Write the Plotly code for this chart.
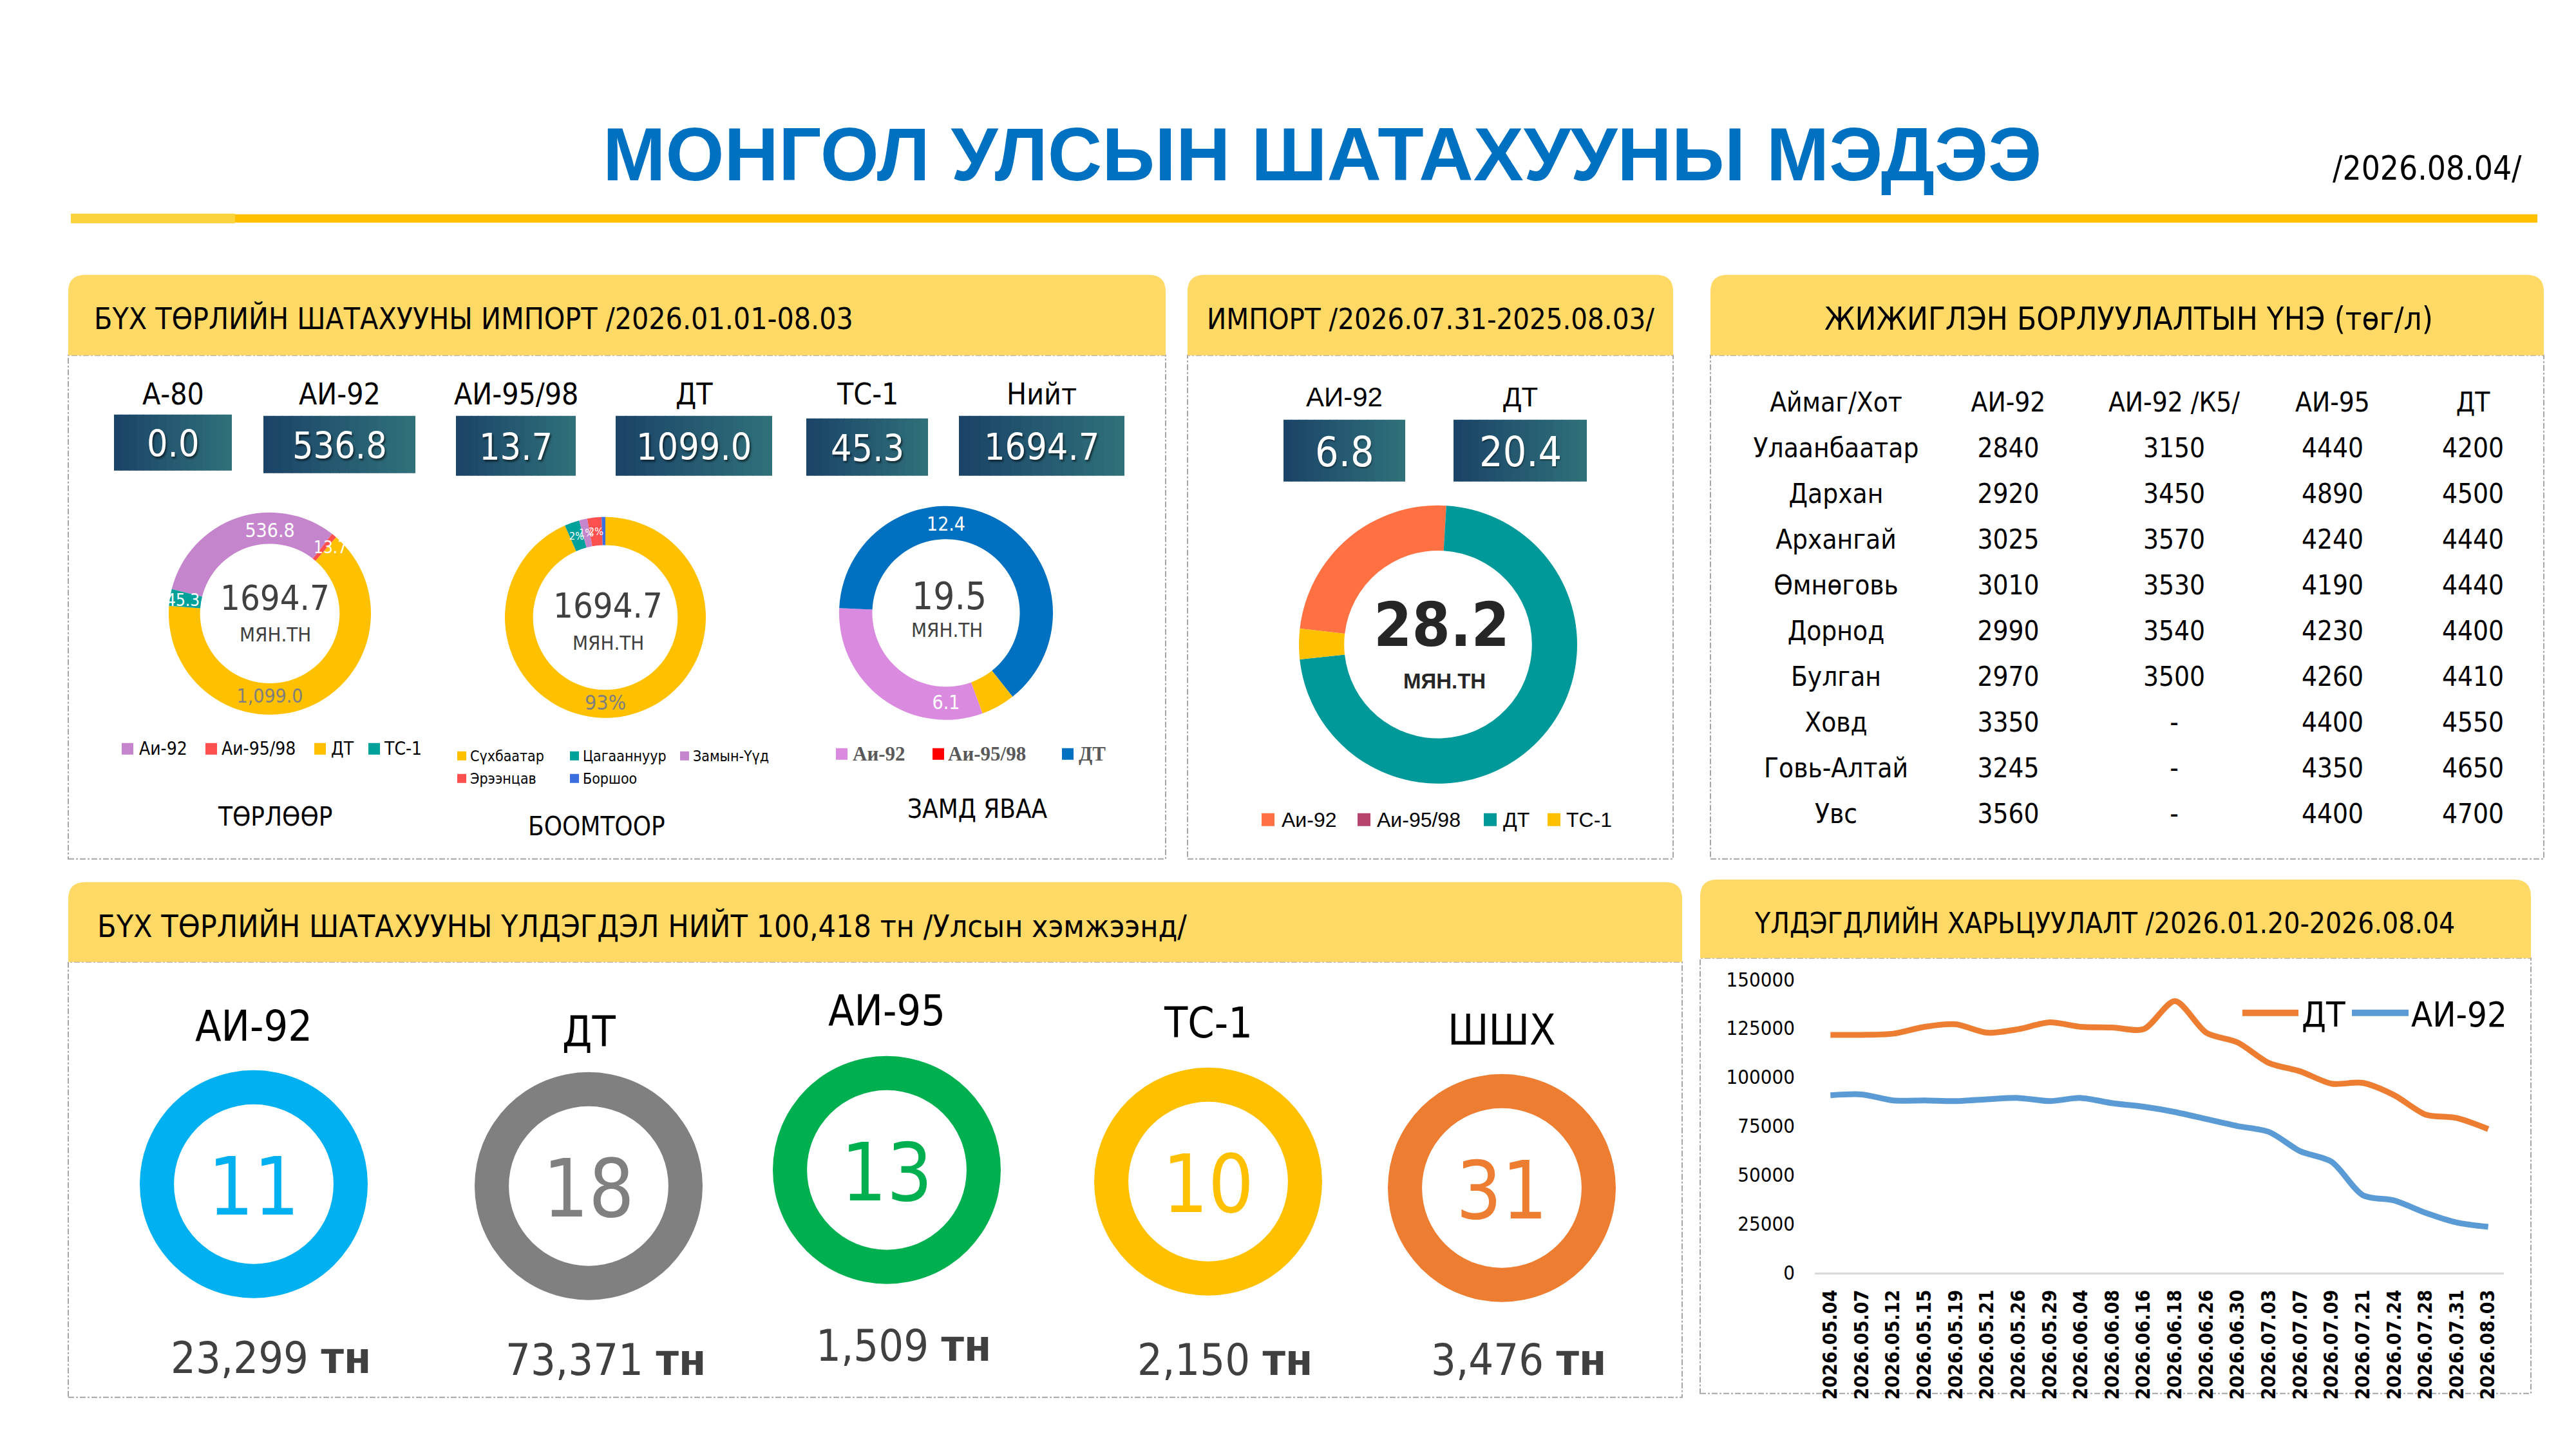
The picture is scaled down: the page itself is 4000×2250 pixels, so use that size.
import math

import plotly.graph_objects as go

W, H = 4000, 2250
# the photographed page comes out slightly shrunk and shifted in height; positions
# below are picture pixels and are mapped back onto the figure with these factors
SX, SY = 1.0, 0.984
OX, OY = 0, 16.5

# ---------------- data ----------------
import_fuels = ["А-80", "АИ-92", "АИ-95/98", "ДТ", "ТС-1", "Нийт"]
import_totals = [0.0, 536.8, 13.7, 1099.0, 45.3, 1694.7]

type_labels = ["Аи-92", "Аи-95/98", "ДТ", "ТС-1"]
type_values = [536.8, 13.7, 1099.0, 45.3]

border_labels = ["Сүхбаатар", "Цагааннуур", "Замын-Үүд", "Эрээнцав", "Боршоо"]
border_share = [93.4, 2.4, 1.3, 2.3, 0.6]

transit_labels = ["Аи-92", "ДТ", "Аи-95/98"]
transit_values = [6.1, 12.4, 1.0]
transit_total = 19.5

recent_labels = ["Аи-92", "Аи-95/98", "ДТ", "ТС-1"]
recent_values = [6.8, 0.0, 20.4, 1.0]
recent_total = 28.2

price_header = ["Аймаг/Хот", "АИ-92", "АИ-92 /К5/", "АИ-95", "ДТ"]
price_places = ["Улаанбаатар", "Дархан", "Архангай", "Өмнөговь", "Дорнод",
                "Булган", "Ховд", "Говь-Алтай", "Увс"]
price_ai92 = [2840, 2920, 3025, 3010, 2990, 2970, 3350, 3245, 3560]
price_ai92_k5 = [3150, 3450, 3570, 3530, 3540, 3500, None, None, None]
price_ai95 = [4440, 4890, 4240, 4190, 4230, 4260, 4400, 4350, 4400]
price_dt = [4200, 4500, 4440, 4440, 4400, 4410, 4550, 4650, 4700]

stock_fuels = ["АИ-92", "ДТ", "АИ-95", "ТС-1", "ШШХ"]
stock_days = [11, 18, 13, 10, 31]
stock_tonnes = [23299, 73371, 1509, 2150, 3476]
stock_total = 100418

trend_dates = ["2026.05.04", "2026.05.07", "2026.05.12", "2026.05.15", "2026.05.19",
               "2026.05.21", "2026.05.26", "2026.05.29", "2026.06.04", "2026.06.08",
               "2026.06.16", "2026.06.18", "2026.06.26", "2026.06.30", "2026.07.03",
               "2026.07.07", "2026.07.09", "2026.07.21", "2026.07.24", "2026.07.28",
               "2026.07.31", "2026.08.03"]
trend_dt = [121600, 121600, 122200, 125700, 127000, 122700, 124500, 128000, 125700,
            125400, 124500, 138900, 122700, 117700, 107200, 102900, 96600, 97000,
            90700, 80800, 79000, 73371]
trend_ai92 = [90700, 91100, 88000, 88000, 87700, 88600, 89300, 87700, 89300, 86600,
              84800, 82100, 78500, 74900, 71900, 62000, 56600, 39500, 36800, 30500,
              25500, 23299]

# ---------------- styles ----------------
NARROW = "DejaVu Sans Condensed, Liberation Sans Narrow, sans-serif"
SANS = "Liberation Sans, Arial, sans-serif"
SERIF = "Liberation Serif, Times New Roman, serif"
HEADER_FILL = "#FFD966"
BORDER = "#A6A6A6"
DARK = "#404040"

type_colors = ["#C585CC", "#FF5050", "#FFC000", "#00A19A"]
border_colors = ["#FFC000", "#00A19A", "#C585CC", "#FF5050", "#3B6FE0"]
transit_colors = ["#DA8BE0", "#0070C0", "#FFC000"]
transit_legend_colors = {"Аи-92": "#DA8BE0", "Аи-95/98": "#FF0000", "ДТ": "#0070C0"}
recent_colors = ["#FF7043", "#B5456E", "#009999", "#FFC000"]
stock_colors = ["#00B0F0", "#808080", "#00B050", "#FFC000", "#ED7D31"]


def fx(x):
    return (x / SX - OX) / W


def fy(y):
    return 1 - (y / SY - OY) / H


shapes = []
annotations = []


def rect(x0, y0, x1, y1, fill, line_color=None, width=0, dash=None):
    shapes.append(dict(
        type="rect", xref="paper", yref="paper", layer="below",
        x0=fx(x0), x1=fx(x1), y0=fy(y1), y1=fy(y0), fillcolor=fill,
        line=dict(width=width, color=line_color or fill, dash=dash),
    ))


def text(x, y, s, size, color="black", family=NARROW, xanchor="center", weight="normal",
         shadow="none"):
    annotations.append(dict(
        x=fx(x), y=fy(y), xref="paper", yref="paper", text=s, showarrow=False,
        xanchor=xanchor, yanchor="middle",
        font=dict(family=family, size=size, color=color, weight=weight, shadow=shadow),
    ))


def panel(x0, x1, y0, yh, y1, title, tx, anchor, size):
    rect(x0, yh, x1, y1, "white", BORDER, 2, "dashdot")
    r = 26
    path = (f"M{fx(x0)},{fy(yh)} L{fx(x0)},{fy(y0 + r)} Q{fx(x0)},{fy(y0)} {fx(x0 + r)},{fy(y0)} "
            f"L{fx(x1 - r)},{fy(y0)} Q{fx(x1)},{fy(y0)} {fx(x1)},{fy(y0 + r)} L{fx(x1)},{fy(yh)} Z")
    shapes.append(dict(type="path", xref="paper", yref="paper", layer="below", path=path,
                       fillcolor=HEADER_FILL, line=dict(width=0)))
    text(tx, (y0 + yh) / 2 + 6, title, size, xanchor=anchor)


def value_box(x0, y0, x1, y1):
    n = 16
    c0, c1 = (27, 68, 104), (47, 112, 121)
    w = (x1 - x0) / n
    for i in range(n):
        t = i / (n - 1)
        c = tuple(round(a + (b - a) * t) for a, b in zip(c0, c1))
        rect(x0 + i * w, y0, min(x0 + (i + 1) * w + 1, x1), y1, "rgb(%d,%d,%d)" % c)


def legend_row(items, y, sq, size, family=NARROW, color="black", weight="normal"):
    for label, col, xs, xt in items:
        rect(xs, y - sq / 2, xs + sq, y + sq / 2, col)
        text(xt, y, label, size, color, family, "left", weight)


def slice_pos(values, idx, rotation, cx, cy, r, hole):
    total = sum(values)
    cum = sum(values[:idx]) + values[idx] / 2
    ang = math.radians(rotation + 360 * cum / total)
    rm = r * (1 + hole) / 2
    return cx + rm * math.sin(ang), cy - rm * math.cos(ang)


fig = go.Figure()


def donut(values, labels, colors, cx, cy, r, hole, rotation, txt=None, tcolor="white",
          tsize=32):
    fig.add_trace(go.Pie(
        values=values, labels=labels, hole=hole, sort=False, direction="clockwise",
        rotation=rotation, marker=dict(colors=colors, line=dict(width=0)),
        domain=dict(x=[fx(cx - r), fx(cx + r)], y=[fy(cy + r), fy(cy - r)]),
        text=txt or [""] * len(values), textinfo="text", textposition="inside",
        insidetextorientation="horizontal",
        textfont=dict(family=NARROW, size=tsize, color=tcolor),
        showlegend=False, hoverinfo="label+value",
    ))


# ---------------- page title ----------------
text(2053, 238, "МОНГОЛ УЛСЫН ШАТАХУУНЫ МЭДЭЭ", 117, "#0070C0", SANS, weight="bold")
text(3918, 260, "/2026.08.04/", 51, xanchor="right")
rect(110, 331, 3940, 344, "#FFC000")
rect(110, 330, 365, 345, "#F9D23C")

# ---------------- panel 1: imports by type ----------------
panel(106, 1810, 425, 550, 1332, "БҮХ ТӨРЛИЙН ШАТАХУУНЫ ИМПОРТ /2026.01.01-08.03", 144, "left", 46)
boxes1 = [(177, 360, 642, 729), (409, 645, 644, 733), (708, 894, 644, 737),
          (956, 1199, 644, 737), (1252, 1441, 648, 737), (1489, 1746, 644, 737)]
for name, val, (bx0, bx1, by0, by1) in zip(import_fuels, import_totals, boxes1):
    value_box(bx0, by0, bx1, by1)
    text((bx0 + bx1) / 2, 610, name, 46)
    text((bx0 + bx1) / 2, (by0 + by1) / 2 + 2, f"{val:.1f}", 57, "white",
         shadow="2px 3px 3px rgba(0,0,0,0.55)")

# donut: by type
c1 = (419, 951, 157, 0.69, -76)
type_text = [f"{v:,.1f}" if v > 100 else "" for v in type_values]
donut(type_values, type_labels, type_colors, c1[0], c1[1], c1[2], c1[3], c1[4],
      type_text, ["white", "white", "#7F7F7F", "white"], 30)
for i, v in enumerate(type_values):
    if v <= 100:
        px_, py_ = slice_pos(type_values, i, c1[4], c1[0], c1[1], c1[2], c1[3])
        text(px_ + (10 if i == 1 else -4), py_, f"{v:,.1f}", 26, "white")
text(427, 927, f"{import_totals[-1]:.1f}", 54, DARK)
text(427, 983, "МЯН.ТН", 31, DARK)
legend_row(list(zip(type_labels, type_colors, [189, 319, 488, 572], [214, 342, 512, 594])),
           1161, 18, 28)
text(427, 1266, "ТӨРЛӨӨР", 40)

# donut: by border point
c2 = (940, 957, 156, 0.72, 0)
border_text = [f"{round(border_share[0])}%"] + [""] * 4
donut(border_share, border_labels, border_colors, c2[0], c2[1], c2[2], c2[3], c2[4],
      border_text, "#7F7F7F", 32)
for i in (1, 2, 3):
    px_, py_ = slice_pos(border_share, i, c2[4], c2[0], c2[1], c2[2], c2[3])
    text(px_, py_, f"{round(border_share[i])}%", 16, "white")
text(944, 939, f"{import_totals[-1]:.1f}", 54, DARK)
text(944, 996, "МЯН.ТН", 31, DARK)
border_pos = list(zip(border_labels, border_colors,
                      [710, 885, 1056, 710, 885], [728, 903, 1074, 728, 903]))
legend_row(border_pos[:3], 1172, 14, 23)
legend_row(border_pos[3:], 1207, 14, 23)
text(926, 1281, "БООМТООР", 40)

# donut: in transit
c3 = (1469, 950, 166, 0.69, 160)
transit_text = [f"{v:.1f}" if v > 2 else "" for v in transit_values]
donut(transit_values, transit_labels, transit_colors, c3[0], c3[1], c3[2], c3[3], c3[4],
      transit_text, "white", 30)
text(1474, 924, f"{transit_total:.1f}", 58, DARK)
text(1470, 976, "МЯН.ТН", 31, DARK)
transit_legend = ["Аи-92", "Аи-95/98", "ДТ"]
legend_row(list(zip(transit_legend, [transit_legend_colors[k] for k in transit_legend],
                    [1298, 1448, 1649], [1322, 1470, 1673])),
           1169, 18, 31, SERIF, "#595959", "bold")
text(1518, 1254, "ЗАМД ЯВАА", 40)

# ---------------- panel 2: recent import ----------------
panel(1844, 2598, 425, 550, 1332, "ИМПОРТ /2026.07.31-2025.08.03/", 2221, "center", 45)
boxes2 = {"АИ-92": (1993, 2182), "ДТ": (2257, 2464)}
for name, val in (("АИ-92", recent_values[0]), ("ДТ", recent_values[2])):
    bx0, bx1 = boxes2[name]
    value_box(bx0, 650, bx1, 746)
    text((bx0 + bx1) / 2, 615, name, 42, family=SANS)
    text((bx0 + bx1) / 2, 700, f"{val:.1f}", 64, "white",
         shadow="1px 2px 2px rgba(0,0,0,0.4)")
c4 = (2233, 999, 216, 0.675, -83.4)
donut(recent_values, recent_labels, recent_colors, c4[0], c4[1], c4[2], c4[3], c4[4])
text(2238, 968, f"{recent_total:.1f}", 95, "#262626", weight="bold")
text(2243, 1056, "МЯН.ТН", 33, "#262626", SANS, weight="bold")
legend_row(list(zip(recent_labels, recent_colors, [1959, 2108, 2304, 2403],
                    [1988, 2136, 2332, 2430])), 1271, 20, 32, SANS)

# ---------------- panel 3: retail price table ----------------
panel(2656, 3950, 425, 550, 1332, "ЖИЖИГЛЭН БОРЛУУЛАЛТЫН ҮНЭ (төг/л)", 3305, "center", 49)
fig.add_trace(go.Table(
    domain=dict(x=[fx(2706), fx(3947)], y=[fy(1325), fy(598)]),
    columnwidth=[290, 245, 270, 222, 214],
    header=dict(values=price_header, fill_color="white", line_color="white",
                align="center", height=71, font=dict(family=NARROW, size=42, color="black")),
    cells=dict(values=[price_places, price_ai92,
                       [v if v is not None else "-" for v in price_ai92_k5],
                       price_ai95, price_dt],
               fill_color="white", line_color="white", align="center", height=71,
               font=dict(family=NARROW, size=42, color="black")),
))

# ---------------- panel 4: stocks ----------------
panel(106, 2612, 1368, 1492, 2168,
      f"БҮХ ТӨРЛИЙН ШАТАХУУНЫ ҮЛДЭГДЭЛ НИЙТ {stock_total:,} тн /Улсын хэмжээнд/",
      149, "left", 48)
ring_pos = [(394, 1837, 1592, 2107), (914, 1840, 1601, 2110), (1377, 1815, 1568, 2088),
            (1876, 1833, 1587, 2110), (2332, 1843, 1598, 2110)]
for name, days, tn, col, (cx, cy, ly, ty) in zip(stock_fuels, stock_days, stock_tonnes,
                                                  stock_colors, ring_pos):
    donut([days], [name], [col], cx, cy, 177, 0.70, 0)
    text(cx, ly, name, 66)
    text(cx, cy + 4, str(days), 124, col)
    text(cx + 26, ty, f"{tn:,} <b>тн</b>", 68, DARK)

# ---------------- panel 5: stock trend ----------------
panel(2640, 3930, 1364, 1486, 2162, "ҮЛДЭГДЛИЙН ХАРЬЦУУЛАЛТ /2026.01.20-2026.08.04",
      2722, "left", 44)
fig.add_trace(go.Scatter(x=trend_dates, y=trend_dt, mode="lines", name="ДТ",
                         line=dict(color="#ED7D31", width=9, shape="spline", smoothing=0.8),
                         showlegend=False))
fig.add_trace(go.Scatter(x=trend_dates, y=trend_ai92, mode="lines", name="АИ-92",
                         line=dict(color="#5B9BD5", width=9, shape="spline", smoothing=0.8),
                         showlegend=False))
for name, col, lx0, lx1, tx in (("ДТ", "#ED7D31", 3482, 3569, 3572),
                                 ("АИ-92", "#5B9BD5", 3652, 3740, 3742)):
    shapes.append(dict(type="line", xref="paper", yref="paper", x0=fx(lx0), x1=fx(lx1),
                       y0=fy(1571), y1=fy(1571), line=dict(color=col, width=10)))
    text(tx, 1574, name, 54, xanchor="left")

fig.update_layout(
    width=W, height=H, margin=dict(l=0, r=0, t=0, b=0),
    paper_bgcolor="white", plot_bgcolor="white",
    shapes=shapes, annotations=annotations, showlegend=False,
    xaxis=dict(domain=[fx(2818), fx(3888)], type="category", showgrid=False,
               range=[-0.5, len(trend_dates) - 0.5],
               showline=True, linecolor="#D9D9D9", linewidth=3, ticks="",
               tickangle=-90, tickfont=dict(family=NARROW, size=30, color="black",
                                            weight="bold"),
               ticklabelstandoff=12, fixedrange=True),
    yaxis=dict(domain=[fy(1974), fy(1519)], range=[0, 150000], dtick=25000,
               tickformat="d", showgrid=False, zeroline=False, showline=False, ticks="",
               tickfont=dict(family=NARROW, size=31, color="black"),
               ticklabelstandoff=30, fixedrange=True),
)

page_css = ("document.documentElement.style.margin='0px';"
            "document.documentElement.style.overflow='hidden';"
            "document.body.style.margin='0px';"
            "document.body.style.padding='0px';"
            "document.body.style.overflow='hidden';")
fig.write_html("out.html", config={"displayModeBar": False}, post_script=page_css)
